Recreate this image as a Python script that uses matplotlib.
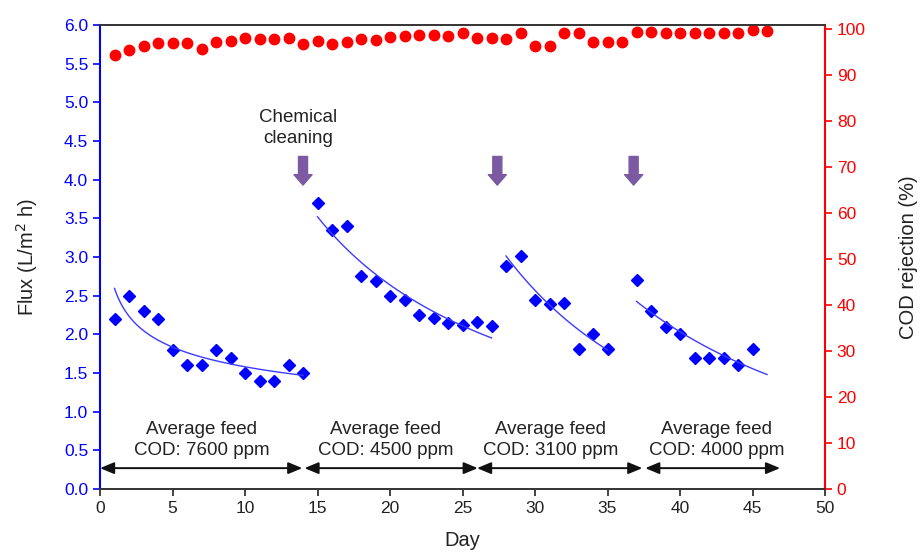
import numpy as np
import matplotlib.pyplot as plt

plt.rcParams['font.family'] = ['Liberation Sans', 'DejaVu Sans']

# --------- Flux data, one list per cleaning cycle ---------
days_1 = [1, 2, 3, 4, 5, 6, 7, 8, 9, 10, 11, 12, 13, 14]
flux_1 = [2.2, 2.5, 2.3, 2.2, 1.8, 1.6, 1.6, 1.8, 1.7, 1.5, 1.4, 1.4, 1.6, 1.5]
days_2 = [15, 16, 17, 18, 19, 20, 21, 22, 23, 24, 25, 26, 27]
flux_2 = [3.7, 3.35, 3.4, 2.75, 2.69, 2.5, 2.45, 2.25, 2.21, 2.15, 2.12, 2.16, 2.11]
days_3 = [28, 29, 30, 31, 32, 33, 34, 35]
flux_3 = [2.89, 3.01, 2.45, 2.39, 2.4, 1.81, 2.01, 1.81]
days_4 = [37, 38, 39, 40, 41, 42, 43, 44, 45]
flux_4 = [2.7, 2.3, 2.1, 2.01, 1.7, 1.7, 1.7, 1.6, 1.81]

# trend line ranges (days)
trend_ranges = [(1, 14), (15, 27), (28, 35), (37, 46)]

# --------- COD rejection ---------
cod_days = list(range(1, 47))
cod_rej = [94.3, 95.4, 96.3, 97.0, 96.9, 96.9, 95.6, 97.2, 97.5, 98.1,
           97.8, 97.8, 98.0, 96.7, 97.5, 96.7, 97.2, 97.8, 97.6, 98.2,
           98.5, 98.7, 98.8, 98.6, 99.1, 98.0, 98.1, 97.8, 99.2, 96.3,
           96.3, 99.1, 99.1, 97.2, 97.1, 97.2, 99.3, 99.3, 99.1, 99.1,
           99.1, 99.2, 99.2, 99.2, 99.8, 99.5]

# --------- Annotations ---------
cleaning_days = [14.0, 27.4, 36.8]
feed_labels = ['Average feed\nCOD: 7600 ppm', 'Average feed\nCOD: 4500 ppm',
               'Average feed\nCOD: 3100 ppm', 'Average feed\nCOD: 4000 ppm']
feed_label_x = [7.0, 19.7, 31.1, 42.5]
feed_spans = [(0, 13.95), (14.1, 26.05), (26.0, 37.4), (37.6, 46.9)]

TXT = '#222222'

fig = plt.figure(figsize=(9.21, 5.52), dpi=100)
ax = fig.add_axes([0.1086, 0.1141, 0.7872, 0.8406])
ax2 = ax.twinx()

segments = [(days_1, flux_1), (days_2, flux_2), (days_3, flux_3), (days_4, flux_4)]
for (d, f), (t0, t1) in zip(segments, trend_ranges):
    ax.plot(d, f, linestyle='none', marker='D', ms=6.5, color='#0000ff')
    # power-law trend line y = a * x^b
    b, ln_a = np.polyfit(np.log(d), np.log(f), 1)
    xt = np.linspace(t0, t1, 100)
    ax.plot(xt, np.exp(ln_a) * xt ** b, color='#3b3bff', lw=1.0)

ax2.plot(cod_days, cod_rej, linestyle='none', marker='o', ms=7.5, color='#ff0000')

# chemical cleaning arrows
for cd in cleaning_days:
    ax.annotate('', xy=(cd, 3.93), xytext=(cd, 4.30),
                arrowprops=dict(arrowstyle='simple,head_length=0.75,head_width=1.3,tail_width=0.65',
                                mutation_scale=10, color='#7b5aa3', shrinkA=0, shrinkB=0))
ax.text(13.67, 4.67, 'Chemical\ncleaning', ha='center', va='center', fontsize=13.5,
        color=TXT, linespacing=1.32)

# feed periods
for lbl, lx, (s0, s1) in zip(feed_labels, feed_label_x, feed_spans):
    ax.text(lx, 0.63, lbl, ha='center', va='center', fontsize=13.5, color=TXT,
            linespacing=1.3)
    ax.annotate('', xy=(s1, 0.27), xytext=(s0, 0.27),
                arrowprops=dict(arrowstyle='<|-|>,head_length=0.6,head_width=0.25',
                                mutation_scale=14, color='#111111', lw=1.4,
                                shrinkA=0, shrinkB=0))

ax.set_xlim(0, 50)
ax.set_ylim(0, 6)
ax2.set_ylim(0, 100.9)
ax.set_xticks(np.arange(0, 51, 5))
ax.set_yticks(np.arange(0, 6.01, 0.5))
ax.set_yticklabels([f'{v:.1f}' for v in np.arange(0, 6.01, 0.5)])
ax2.set_yticks(np.arange(0, 101, 10))

ax.spines['left'].set_color('#0000ff')
ax.spines['left'].set_linewidth(1.5)
ax2.spines['left'].set_visible(False)
ax2.spines['right'].set_color('#ff0000')
ax2.spines['right'].set_linewidth(1.5)
ax.spines['right'].set_visible(False)
for s in ['top', 'bottom']:
    ax.spines[s].set_color('#333333')
    ax.spines[s].set_linewidth(1.2)
    ax2.spines[s].set_color('#333333')
    ax2.spines[s].set_linewidth(1.2)

ax.tick_params(axis='y', colors='#0000ff', labelsize=12.5, direction='out', length=5, width=1.2)
ax.tick_params(axis='x', colors='#222222', labelsize=12.5, direction='out', length=5, width=1.2)
ax2.tick_params(axis='y', colors='#ff0000', labelsize=12.5, direction='out', length=5, width=1.2)

ax.set_xlabel('Day', fontsize=14.5, color=TXT, labelpad=11)
ax.set_ylabel('Flux (L/m$^2$ h)', fontsize=14.5, color=TXT, labelpad=17)
ax2.set_ylabel('COD rejection (%)', fontsize=14.5, color=TXT, labelpad=24)

fig.savefig('out.png', dpi=100)
